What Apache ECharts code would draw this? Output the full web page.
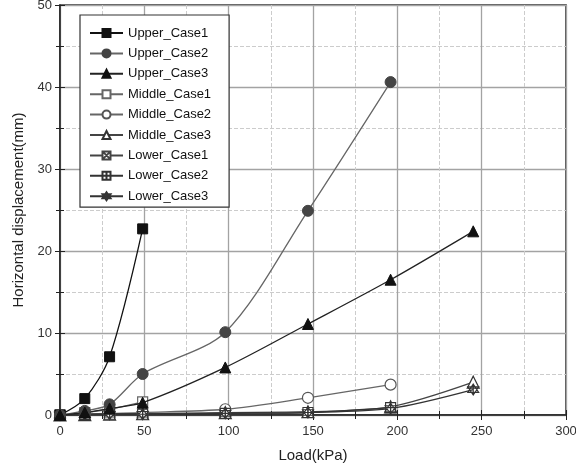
<!DOCTYPE html>
<html>
<head>
<meta charset="utf-8">
<script src="https://cdn.jsdelivr.net/npm/echarts@6/dist/echarts.min.js"></script>
<style>
  html, body { margin: 0; padding: 0; background: #fff; }
  #chart { width: 576px; height: 463px; }
</style>
</head>
<body>
<div id="chart"></div>
<script>
// loads (kPa)
const loadCase1 = [0, 14.7, 29.4, 49]
const loadCase2 = [0, 14.7, 29.4, 49, 98, 147, 196]
const loadCase3 = [0, 14.7, 29.4, 49, 98, 147, 196, 245]

// horizontal displacement (mm)
const upperCase1 = [0, 2.0, 7.1, 22.7]
const upperCase2 = [0, 0.5, 1.3, 5.0, 10.1, 24.9, 40.6]
const upperCase3 = [0, 0.3, 0.8, 1.5, 5.8, 11.1, 16.5, 22.4]
const middleCase1 = [0, 0.3, 0.7, 1.6]
const middleCase2 = [0, 0.1, 0.2, 0.3, 0.7, 2.1, 3.7]
const middleCase3 = [0, 0.05, 0.1, 0.15, 0.3, 0.4, 1.0, 4.0]
const lowerCase1 = [0, 0.05, 0.1, 0.1]
const lowerCase2 = [0, 0.05, 0.1, 0.1, 0.2, 0.3, 0.9]
const lowerCase3 = [0, 0.05, 0.1, 0.1, 0.2, 0.3, 0.8, 3.1]

const pairs = (xs, ys) => xs.map((x, i) => [x, ys[i]])

const boxX = 'path://M0,0 L10,0 L10,10 L0,10 Z M0,0 L10,10 M10,0 L0,10'
const boxPlus = 'path://M0,0 L10,0 L10,10 L0,10 Z M5,0 L5,10 M0,5 L10,5'
const starTri = 'path://M5,0 L10,9 L0,9 Z M0,3 L10,3 L5,12 Z M5,0 L5,12'

function mkSeries(name, xs, ys, opt) {
  return {
    name: name,
    type: 'line',
    data: pairs(xs, ys),
    smooth: 0.3,
    symbol: opt.symbol,
    symbolSize: opt.size || 9,
    lineStyle: { color: opt.line, width: 1.3 },
    itemStyle: {
      color: opt.fill,
      borderColor: opt.border || opt.fill,
      borderWidth: opt.bw || 1
    },
    z: opt.z || 2
  }
}

const series = [
  mkSeries('Upper_Case1', loadCase1, upperCase1, { symbol: 'rect', size: 10, line: '#111', fill: '#111', z: 5 }),
  mkSeries('Upper_Case2', loadCase2, upperCase2, { symbol: 'circle', size: 11, line: '#666', fill: '#444', z: 5 }),
  mkSeries('Upper_Case3', loadCase3, upperCase3, { symbol: 'triangle', size: 11, line: '#222', fill: '#111', z: 5 }),
  mkSeries('Middle_Case1', loadCase1, middleCase1, { symbol: 'rect', size: 10, line: '#666', fill: '#fff', border: '#666', bw: 1.2 }),
  mkSeries('Middle_Case2', loadCase2, middleCase2, { symbol: 'circle', size: 11, line: '#666', fill: '#fff', border: '#555', bw: 1.2 }),
  mkSeries('Middle_Case3', loadCase3, middleCase3, { symbol: 'triangle', size: 12, line: '#444', fill: '#fff', border: '#333', bw: 1.2 }),
  mkSeries('Lower_Case1', loadCase1, lowerCase1, { symbol: boxX, size: 9, line: '#444', fill: '#fff', border: '#444', bw: 1.1 }),
  mkSeries('Lower_Case2', loadCase2, lowerCase2, { symbol: boxPlus, size: 10, line: '#333', fill: '#fff', border: '#333', bw: 1.1 }),
  mkSeries('Lower_Case3', loadCase3, lowerCase3, { symbol: starTri, size: 11, line: '#333', fill: 'rgba(0,0,0,0)', border: '#333', bw: 1.1 })
]

const axisFont = { color: '#333', fontSize: 13, fontFamily: 'Liberation Sans, Arial' }

const option = {
  backgroundColor: '#fff',
  animation: false,
  grid: {
    left: 60,
    right: 10,
    top: 5,
    bottom: 48,
    outerBoundsMode: 'none',
    containLabel: false,
    show: true,
    borderColor: '#222',
    borderWidth: 1.5
  },
  legend: {
    orient: 'vertical',
    left: 80,
    top: 15,
    width: 148,
    padding: [11, 18, 4, 9],
    itemGap: 6.4,
    itemWidth: 33,
    itemHeight: 10,
    backgroundColor: '#fff',
    borderColor: '#333',
    borderWidth: 1.2,
    textStyle: { color: '#111', fontSize: 13, lineHeight: 14, fontFamily: 'Liberation Sans, Arial' },
    data: series.map(s => s.name)
  },
  xAxis: [
    {
      type: 'value',
      min: 0,
      max: 300,
      interval: 50,
      name: 'Load(kPa)',
      nameLocation: 'middle',
      nameGap: 33,
      nameTextStyle: { color: '#222', fontSize: 15, fontFamily: 'Liberation Sans, Arial' },
      axisLine: { show: true, lineStyle: { color: '#222', width: 1.5 } },
      axisTick: { show: true, inside: true, length: 5, lineStyle: { color: '#222' } },
      minorTick: { show: true, splitNumber: 2, length: 4, lineStyle: { color: '#222' } },
      axisLabel: Object.assign({ margin: 10 }, axisFont),
      splitLine: { show: true, lineStyle: { color: '#a3a3a3', width: 1.3 } },
      minorSplitLine: { show: true, lineStyle: { color: '#ccc', type: 'dashed', width: 1 } }
    },
    {
      type: 'value',
      position: 'top',
      min: 0,
      max: 300,
      interval: 50,
      axisLine: { show: false },
      axisTick: { show: true, inside: true, length: 5, lineStyle: { color: '#222' } },
      minorTick: { show: true, splitNumber: 2, length: 4, lineStyle: { color: '#222' } },
      axisLabel: { show: false },
      splitLine: { show: false }
    }
  ],
  yAxis: [
    {
      type: 'value',
      min: 0,
      max: 50,
      interval: 10,
      name: 'Horizontal displacement(mm)',
      nameLocation: 'middle',
      nameGap: 30,
      nameTextStyle: { color: '#222', fontSize: 15, fontFamily: 'Liberation Sans, Arial' },
      axisLine: { show: true, lineStyle: { color: '#222', width: 1.5 } },
      axisTick: { show: true, inside: true, length: 5, lineStyle: { color: '#222' } },
      minorTick: { show: true, splitNumber: 2, length: 4, lineStyle: { color: '#222' } },
      axisLabel: Object.assign({ margin: 8 }, axisFont),
      splitLine: { show: true, lineStyle: { color: '#a3a3a3', width: 1.3 } },
      minorSplitLine: { show: true, lineStyle: { color: '#ccc', type: 'dashed', width: 1 } }
    },
    {
      type: 'value',
      position: 'right',
      min: 0,
      max: 50,
      interval: 10,
      axisLine: { show: false },
      axisTick: { show: true, inside: true, length: 5, lineStyle: { color: '#222' } },
      minorTick: { show: true, splitNumber: 2, length: 4, lineStyle: { color: '#222' } },
      axisLabel: { show: false },
      splitLine: { show: false }
    }
  ],
  series: series
}

const chart = echarts.init(document.getElementById('chart'))
chart.setOption(option)
</script>
</body>
</html>
